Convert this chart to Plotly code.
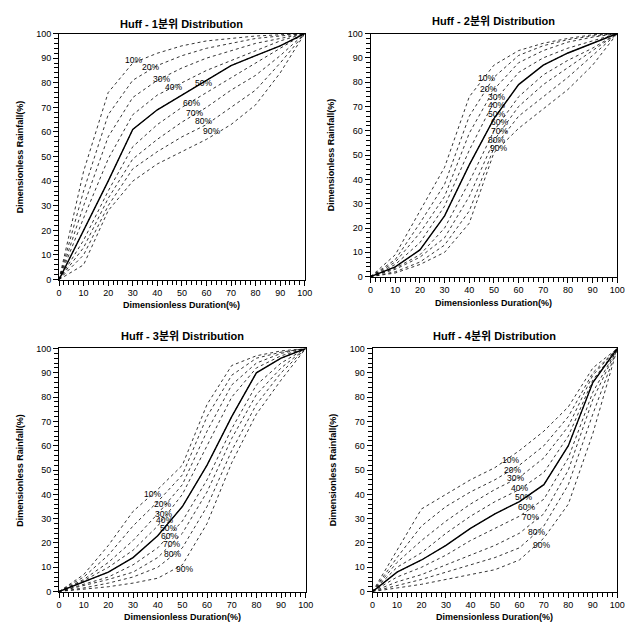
import plotly.graph_objects as go

# ---------------- data ----------------
duration = [0, 10, 20, 30, 40, 50, 60, 70, 80, 90, 100]
percent_labels = ["10%", "20%", "30%", "40%", "50%", "60%", "70%", "80%", "90%"]
titles = ["Huff - 1분위 Distribution", "Huff - 2분위 Distribution",
          "Huff - 3분위 Distribution", "Huff - 4분위 Distribution"]

q1 = [
    [0, 44, 76, 88, 92, 95, 97, 98, 99, 99.5, 100],
    [0, 36, 67, 81, 87, 91, 94, 96, 98, 99, 100],
    [0, 30, 58, 74, 81, 86, 90, 93, 96, 98, 100],
    [0, 25, 49, 67, 75, 80, 85, 89, 93, 97, 100],
    [0, 20, 40, 61, 69, 75, 81, 87, 91, 95, 100],
    [0, 16, 36, 54, 63, 70, 76, 82, 88, 94, 100],
    [0, 13, 33, 49, 57, 64, 70, 77, 83, 91, 100],
    [0, 10, 30, 45, 52, 58, 63, 70, 77, 88, 100],
    [0, 6, 28, 40, 47, 52, 57, 63, 71, 84, 100],
]
q2 = [
    [0, 9, 27, 45, 74, 87, 93, 96, 98, 99.5, 100],
    [0, 7, 22, 38, 66, 82, 91, 95, 97.5, 99, 100],
    [0, 6, 18, 33, 59, 77, 88, 93, 96.5, 98.5, 100],
    [0, 5, 14, 29, 52, 72, 84, 90, 94, 97, 100],
    [0, 4, 11, 25, 46, 65, 79, 87, 92, 96, 100],
    [0, 3.5, 9, 20, 39, 60, 74, 83, 89, 94, 100],
    [0, 3, 8, 16, 33, 56, 70, 79, 86, 93, 100],
    [0, 2, 6, 13, 27, 53, 66, 74, 82, 91, 100],
    [0, 1.5, 5, 10, 22, 51, 61, 69, 77, 87, 100],
]
q3 = [
    [0, 7, 19, 33, 42, 52, 77, 93, 97, 99, 100],
    [0, 6, 15, 27, 37, 48, 72, 89, 96, 98.5, 100],
    [0, 5, 12, 21, 32, 44, 66, 85, 94, 98, 100],
    [0, 4.5, 10, 17, 27, 40, 60, 80, 92, 97, 100],
    [0, 4, 8, 14, 23, 35, 52, 72, 90, 96, 100],
    [0, 3, 6, 11, 18, 29, 46, 67, 85, 94, 100],
    [0, 2.5, 5, 8, 14, 24, 41, 63, 81, 92, 100],
    [0, 1.5, 3.5, 6, 10, 18, 35, 58, 77, 90, 100],
    [0, 1, 2, 3.5, 5.5, 11, 28, 53, 73, 87, 100],
]
q4 = [
    [0, 17, 34, 40, 46, 51, 58, 66, 76, 92, 100],
    [0, 14, 27, 35, 41, 46, 52, 60, 72, 90, 100],
    [0, 12, 21, 29, 36, 42, 47, 55, 68, 89, 100],
    [0, 10, 16, 24, 31, 37, 42, 49, 64, 87, 100],
    [0, 8, 13, 19, 26, 32, 37, 44, 60, 86, 100],
    [0, 6, 10, 15, 21, 26, 31, 38, 55, 82, 100],
    [0, 4, 7, 11, 15, 19, 24, 32, 50, 79, 100],
    [0, 2.5, 5, 8, 11, 14, 18, 27, 44, 73, 100],
    [0, 1.5, 3, 5, 7, 9, 13, 22, 36, 65, 100],
]
quartiles = [q1, q2, q3, q4]

# ---------------- layout settings ----------------
W, H = 642, 634
# plot areas in pixels: (left, right, top, bottom)
boxes = [(57, 307, 29, 279), (374, 625, 29, 276), (57, 308, 349, 596), (376, 625, 349, 596)]
title_y = [19, 16, 336, 336]
xtitle_y = [305, 303, 622, 622]
ytitle_x = [17, 334, 17, 336]

label_pos = [
    [(30.2, 89.3), (37.4, 86.3), (41.8, 81.7), (46.4, 78.3), (58.7, 80.1), (53.9, 71.7), (55.1, 67.9), (58.8, 64.5), (62.2, 60.3)],
    [(46.9, 81.7), (47.9, 77.2), (50.9, 73.9), (51.2, 70.8), (50.9, 66.7), (52.1, 63.5), (52.3, 60), (51.2, 56.3), (51.9, 53)],
    [(38, 40.2), (41.9, 35.9), (42.3, 32.1), (42.8, 29.4), (44.3, 26), (44.9, 22.9), (45.6, 19.6), (46, 15.5), (50.7, 9.2)],
    [(56.2, 54.1), (57.2, 50.1), (58.6, 46.6), (60, 42.8), (61.8, 39.1), (63, 34.8), (64.5, 30.5), (66.9, 24.4), (69.2, 19)],
]

FONT = "Liberation Sans, Arial, Noto Sans CJK KR"

fig = go.Figure()
annotations = []
layout_axes = {}

for i, q in enumerate(quartiles):
    n = i + 1
    xa = "x" if n == 1 else f"x{n}"
    ya = "y" if n == 1 else f"y{n}"
    for j, ys in enumerate(q):
        fig.add_trace(go.Scatter(
            x=duration, y=ys, mode="lines", xaxis=xa, yaxis=ya,
            line=dict(color="black", width=0.8, dash="3px,3px"),
            showlegend=False, hoverinfo="skip"))
    # median solid line
    fig.add_trace(go.Scatter(
        x=duration, y=q[4], mode="lines", xaxis=xa, yaxis=ya,
        line=dict(color="black", width=1.4),
        showlegend=False, hoverinfo="skip"))

    l, r, t, b = boxes[i]
    axis_common = dict(
        range=[0, 100], dtick=10, tick0=0, showgrid=False, zeroline=False,
        showline=True, mirror=True, linecolor="black", linewidth=1,
        ticks="outside", ticklen=5, tickcolor="black", tickwidth=1,
        tickfont=dict(family=FONT, size=9, color="black"),
        minor=dict(dtick=2, ticks="outside", ticklen=4, tickcolor="black", tickwidth=1),
        fixedrange=True,
    )
    layout_axes["xaxis" if n == 1 else f"xaxis{n}"] = dict(
        axis_common, domain=[l / W, r / W], anchor=ya)
    layout_axes["yaxis" if n == 1 else f"yaxis{n}"] = dict(
        axis_common, domain=[1 - b / H, 1 - t / H], anchor=xa)

    # titles
    annotations.append(dict(
        text=f"<b>{titles[i]}</b>", x=(l + r) / 2 / W, y=1 - title_y[i] / H,
        xref="paper", yref="paper", showarrow=False, xanchor="center", yanchor="middle",
        font=dict(family=FONT, size=11, color="black")))
    annotations.append(dict(
        text="<b>Dimensionless Duration(%)</b>", x=(l + r) / 2 / W, y=1 - xtitle_y[i] / H,
        xref="paper", yref="paper", showarrow=False, xanchor="center", yanchor="middle",
        font=dict(family=FONT, size=9, color="black")))
    annotations.append(dict(
        text="<b>Dimensionless Rainfall(%)</b>", x=ytitle_x[i] / W, y=1 - (t + b) / 2 / H,
        xref="paper", yref="paper", showarrow=False, xanchor="center", yanchor="middle",
        textangle=-90, font=dict(family=FONT, size=9, color="black")))
    # percentile labels
    for lab, (px, py) in zip(percent_labels, label_pos[i]):
        annotations.append(dict(
            text=lab, x=px, y=py, xref=xa, yref=ya, showarrow=False,
            xanchor="center", yanchor="middle",
            font=dict(family=FONT, size=8.5, color="black")))

fig.update_layout(
    width=W, height=H, margin=dict(l=0, r=0, t=0, b=0),
    paper_bgcolor="white", plot_bgcolor="white",
    annotations=annotations, **layout_axes)

fig.write_html("out.html",
               config={"displayModeBar": False},
               post_script="document.body.style.margin='0';document.body.style.overflow='hidden';")
